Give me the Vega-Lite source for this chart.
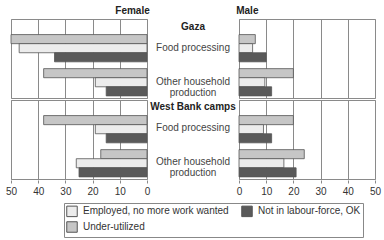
{
  "$schema": "https://vega.github.io/schema/vega-lite/v6.json",
  "padding": {"left": 5, "top": 5, "right": 5, "bottom": 5},
  "background": "white",
  "data": {
    "values": [
      {"region": "Gaza", "category": "Food processing", "sex": "Female", "series": "Under-utilized", "value": 50},
      {"region": "Gaza", "category": "Food processing", "sex": "Female", "series": "Employed, no more work wanted", "value": 47},
      {"region": "Gaza", "category": "Food processing", "sex": "Female", "series": "Not in labour-force, OK", "value": 34},
      {"region": "Gaza", "category": "Other household\nproduction", "sex": "Female", "series": "Under-utilized", "value": 38},
      {"region": "Gaza", "category": "Other household\nproduction", "sex": "Female", "series": "Employed, no more work wanted", "value": 19},
      {"region": "Gaza", "category": "Other household\nproduction", "sex": "Female", "series": "Not in labour-force, OK", "value": 15},
      {"region": "West Bank camps", "category": "Food processing", "sex": "Female", "series": "Under-utilized", "value": 38},
      {"region": "West Bank camps", "category": "Food processing", "sex": "Female", "series": "Employed, no more work wanted", "value": 19},
      {"region": "West Bank camps", "category": "Food processing", "sex": "Female", "series": "Not in labour-force, OK", "value": 15},
      {"region": "West Bank camps", "category": "Other household\nproduction", "sex": "Female", "series": "Under-utilized", "value": 17},
      {"region": "West Bank camps", "category": "Other household\nproduction", "sex": "Female", "series": "Employed, no more work wanted", "value": 26},
      {"region": "West Bank camps", "category": "Other household\nproduction", "sex": "Female", "series": "Not in labour-force, OK", "value": 25},
      {"region": "Gaza", "category": "Food processing", "sex": "Male", "series": "Under-utilized", "value": 6},
      {"region": "Gaza", "category": "Food processing", "sex": "Male", "series": "Employed, no more work wanted", "value": 5},
      {"region": "Gaza", "category": "Food processing", "sex": "Male", "series": "Not in labour-force, OK", "value": 10},
      {"region": "Gaza", "category": "Other household\nproduction", "sex": "Male", "series": "Under-utilized", "value": 20},
      {"region": "Gaza", "category": "Other household\nproduction", "sex": "Male", "series": "Employed, no more work wanted", "value": 9.5},
      {"region": "Gaza", "category": "Other household\nproduction", "sex": "Male", "series": "Not in labour-force, OK", "value": 12},
      {"region": "West Bank camps", "category": "Food processing", "sex": "Male", "series": "Under-utilized", "value": 20},
      {"region": "West Bank camps", "category": "Food processing", "sex": "Male", "series": "Employed, no more work wanted", "value": 9},
      {"region": "West Bank camps", "category": "Food processing", "sex": "Male", "series": "Not in labour-force, OK", "value": 12},
      {"region": "West Bank camps", "category": "Other household\nproduction", "sex": "Male", "series": "Under-utilized", "value": 24},
      {"region": "West Bank camps", "category": "Other household\nproduction", "sex": "Male", "series": "Employed, no more work wanted", "value": 16.5},
      {"region": "West Bank camps", "category": "Other household\nproduction", "sex": "Male", "series": "Not in labour-force, OK", "value": 21}
    ]
  },
  "config": {
    "font": "Liberation Sans",
    "view": {"stroke": "#8a8a8a", "strokeWidth": 1},
    "concat": {"spacing": 0},
    "facet": {"spacing": 0}
  },
  "spacing": 0,
  "hconcat": [
    {
      "transform": [{"filter": "datum.sex === 'Female'"}],
      "title": {"text": "Female", "anchor": "end", "fontSize": 10, "fontWeight": "bold", "color": "#222", "offset": 3},
      "facet": {"row": {"field": "region", "type": "nominal", "header": null, "sort": ["Gaza", "West Bank camps"]}},
      "spacing": 0,
      "spec": {
        "width": 136,
        "height": 79,
        "mark": {"type": "bar", "stroke": "#555", "strokeWidth": 0.8},
        "encoding": {
          "x": {"field": "value", "type": "quantitative", "scale": {"domain": [0, 50], "reverse": true},
            "axis": {"values": [0, 10, 20, 30, 40, 50], "grid": true, "gridColor": "#8a8a8a", "domain": false, "tickSize": 3, "tickColor": "#8a8a8a", "labelFontSize": 10, "labelColor": "#333", "title": null, "labelPadding": 3, "labelFlush": false}},
          "y": {"field": "category", "type": "nominal", "scale": {"domain": ["Food processing", "Other household\nproduction"], "paddingInner": 0.2, "paddingOuter": 0.26, "align": 0.88}, "axis": null},
          "yOffset": {"field": "series", "type": "nominal", "scale": {"domain": ["Under-utilized", "Employed, no more work wanted", "Not in labour-force, OK"], "paddingInner": 0, "paddingOuter": 0}},
          "color": {"field": "series", "type": "nominal",
            "scale": {"domain": ["Employed, no more work wanted", "Not in labour-force, OK", "Under-utilized"], "range": ["#ececec", "#5a5a5a", "#c6c6c6"]},
            "legend": {"title": null, "orient": "none", "legendX": 53, "legendY": 184, "direction": "horizontal", "columns": 2, "symbolType": "square", "symbolSize": 110, "symbolStrokeColor": "#555", "symbolStrokeWidth": 1, "labelFontSize": 10, "labelColor": "#333", "strokeColor": "#888", "padding": 2, "columnPadding": 10, "rowPadding": 0, "fillColor": "white", "labelOffset": 5}}
        }
      }
    },
    {
      "transform": [{"filter": "datum.sex === 'Female' && datum.series === 'Under-utilized'"}],
      "facet": {"row": {"field": "region", "type": "nominal", "header": null, "sort": ["Gaza", "West Bank camps"]}},
      "spacing": 0,
      "spec": {
        "width": 86,
        "height": 79,
        "view": {"stroke": null},
        "layer": [
          {
            "mark": {"type": "text", "fontSize": 10, "color": "#444", "lineBreak": "\n", "lineHeight": 11},
            "encoding": {
              "y": {"field": "category", "type": "nominal", "scale": {"type": "band", "domain": ["Food processing", "Other household\nproduction"], "paddingInner": 0.2, "paddingOuter": 0.26, "align": 0.88}, "axis": null},
              "text": {"field": "category"}
            }
          },
          {
            "transform": [{"filter": "datum.category === 'Food processing'"}],
            "mark": {"type": "text", "fontSize": 10, "fontWeight": "bold", "color": "#222", "dy": -21},
            "encoding": {
              "y": {"field": "category", "type": "nominal"},
              "text": {"field": "region"}
            }
          }
        ]
      }
    },
    {
      "transform": [{"filter": "datum.sex === 'Male'"}],
      "title": {"text": "Male", "anchor": "start", "fontSize": 10, "fontWeight": "bold", "color": "#222", "offset": 3},
      "facet": {"row": {"field": "region", "type": "nominal", "header": null, "sort": ["Gaza", "West Bank camps"]}},
      "spacing": 0,
      "spec": {
        "width": 136,
        "height": 79,
        "mark": {"type": "bar", "stroke": "#555", "strokeWidth": 0.8},
        "encoding": {
          "x": {"field": "value", "type": "quantitative", "scale": {"domain": [0, 50]},
            "axis": {"values": [0, 10, 20, 30, 40, 50], "grid": true, "gridColor": "#8a8a8a", "domain": false, "tickSize": 3, "tickColor": "#8a8a8a", "labelFontSize": 10, "labelColor": "#333", "title": null, "labelPadding": 3, "labelFlush": false}},
          "y": {"field": "category", "type": "nominal", "scale": {"domain": ["Food processing", "Other household\nproduction"], "paddingInner": 0.2, "paddingOuter": 0.26, "align": 0.88}, "axis": null},
          "yOffset": {"field": "series", "type": "nominal", "scale": {"domain": ["Under-utilized", "Employed, no more work wanted", "Not in labour-force, OK"], "paddingInner": 0, "paddingOuter": 0}},
          "color": {"field": "series", "type": "nominal",
            "scale": {"domain": ["Employed, no more work wanted", "Not in labour-force, OK", "Under-utilized"], "range": ["#ececec", "#5a5a5a", "#c6c6c6"]}}
        }
      }
    }
  ]
}
